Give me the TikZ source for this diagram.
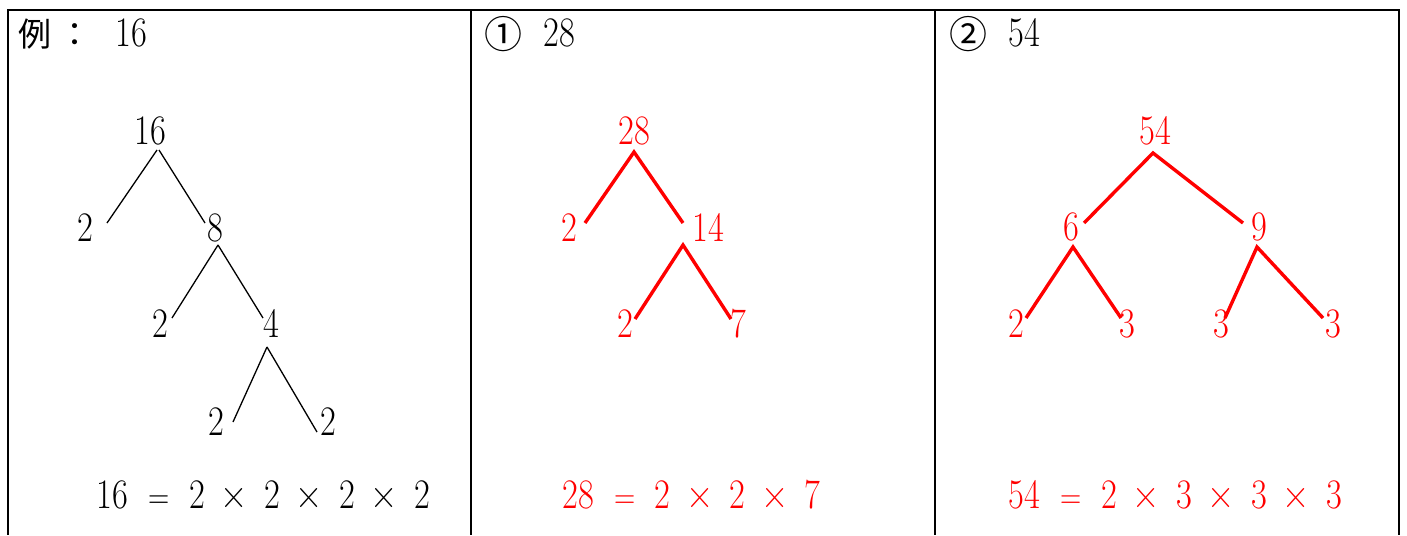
\documentclass[tikz,border=0pt]{standalone}
\usepackage{fontspec}
\usepackage{graphicx}
\newfontfamily\cjkfont{Noto Sans CJK TC}
\usetikzlibrary{calc}
\newcommand\nq[1]{\scalebox{0.82}[1]{#1}}
\newcommand\tk[1]{\makebox[37.5pt][c]{\nq{#1}}}
\newcommand\fst[1]{\makebox[56.5pt][c]{\nq{#1}}}
\newcommand\eqsign{\makebox[37.5pt][c]{\scalebox{0.7}[0.85]{=}}}
\newcommand\timessign{\makebox[37.5pt][c]{\scalebox{0.9}[1]{×}}}
\tikzset{
  every node/.style={inner sep=0pt, outer sep=0pt, font=\fontsize{42}{42}\selectfont},
  num/.style={anchor=base},
  redtxt/.style={text=red},
  blackline/.style={draw=black, line width=1.3pt},
  redline/.style={draw=red, line width=3.4pt},
  frame/.style={draw=black, line width=2pt},
  cjkbig/.style={font=\cjkfont\fontsize{33}{33}\selectfont},
  circnum/.style={font=\cjkfont\fontsize{38}{38}\selectfont},
}
\begin{document}
\begin{tikzpicture}[x=1pt,y=-1pt]
\useasboundingbox (0,0) rectangle (1407,535);
% frame
\coordinate (tl) at (7,10);
\coordinate (tr) at (1400,10);
\coordinate (v1t) at (8,10);   \coordinate (v1b) at (8,535);
\coordinate (v2t) at (471,10); \coordinate (v2b) at (471,535);
\coordinate (v3t) at (935,10); \coordinate (v3b) at (935,535);
\coordinate (v4t) at (1399,10);\coordinate (v4b) at (1399,535);
\draw[frame] (tl) -- (tr);
\draw[frame] (v1t) -- (v1b);
\draw[frame] (v2t) -- (v2b);
\draw[frame] (v3t) -- (v3b);
\draw[frame] (v4t) -- (v4b);

% headers
\node[cjkbig] (h1a) at (34.5,34) {例};
\node[cjkbig] (h1b) at (75,35) {：};
\node[num] (h1c) at (131,47) {\nq{16}};
\node[circnum] (h2a) at (503.5,34) {①};
\node[num] (h2b) at (559.5,47) {\nq{28}};
\node[circnum] (h3a) at (968.5,34) {②};
\node[num] (h3b) at (1024.5,47) {\nq{54}};

% tree 1
\node[num] (a1) at (150,144) {\nq{16}};
\node[num] (a2) at (85,241) {\nq{2}};
\node[num] (a3) at (215,241) {\nq{8}};
\node[num] (a4) at (160,337) {\nq{2}};
\node[num] (a5) at (271,337) {\nq{4}};
\node[num] (a6) at (216,435) {\nq{2}};
\node[num] (a7) at (328,435) {\nq{2}};
\draw[blackline] ($(a1.base)+(7,6)$) -- ($(a2.base)+(22,-18)$);
\draw[blackline] ($(a1.base)+(9,6)$) -- ($(a3.base)+(-10,-18)$);
\draw[blackline] ($(a3.base)+(3,4)$) -- ($(a4.base)+(12,-19)$);
\draw[blackline] ($(a3.base)+(3,4)$) -- ($(a5.base)+(-8,-19)$);
\draw[blackline] ($(a5.base)+(-4,10)$) -- ($(a6.base)+(17,-13)$);
\draw[blackline] ($(a5.base)+(-4,10)$) -- ($(a7.base)+(-11,-3)$);
\node[anchor=base west] (e1) at (84.25,508) {\fst{16}\eqsign\tk{2}\timessign\tk{2}\timessign\tk{2}\timessign\tk{2}};

% tree 2
\node[num,redtxt] (b1) at (634,144) {\nq{28}};
\node[num,redtxt] (b2) at (569,241) {\nq{2}};
\node[num,redtxt] (b3) at (708,241) {\nq{14}};
\node[num,redtxt] (b4) at (625,337) {\nq{2}};
\node[num,redtxt] (b5) at (738,337) {\nq{7}};
\draw[redline] ($(b2.base)+(16,-18)$) -- ($(b1.base)+(0,8)$) -- ($(b3.base)+(-25,-18)$);
\draw[redline] ($(b4.base)+(10,-18)$) -- ($(b3.base)+(-25,4)$) -- ($(b5.base)+(-7,-18)$);
\node[anchor=base west,redtxt] (e2) at (549.75,508) {\fst{28}\eqsign\tk{2}\timessign\tk{2}\timessign\tk{7}};

% tree 3
\node[num,redtxt] (c1) at (1155,144) {\nq{54}};
\node[num,redtxt] (c2) at (1071,240) {\nq{6}};
\node[num,redtxt] (c3) at (1259,240) {\nq{9}};
\node[num,redtxt] (c4) at (1016,337) {\nq{2}};
\node[num,redtxt] (c5) at (1127,337) {\nq{3}};
\node[num,redtxt] (c6) at (1221,337) {\nq{3}};
\node[num,redtxt] (c7) at (1333,337) {\nq{3}};
\draw[redline] ($(c2.base)+(13,-17)$) -- ($(c1.base)+(-2,9)$) -- ($(c3.base)+(-16,-17)$);
\draw[redline] ($(c4.base)+(10,-19)$) -- ($(c2.base)+(2,7)$) -- ($(c5.base)+(-6,-19)$);
\draw[redline] ($(c6.base)+(4,-19)$) -- ($(c3.base)+(-2,7)$) -- ($(c7.base)+(-10,-19)$);
\node[anchor=base west,redtxt] (e3) at (996.25,508) {\fst{54}\eqsign\tk{2}\timessign\tk{3}\timessign\tk{3}\timessign\tk{3}};
\end{tikzpicture}
\end{document}
